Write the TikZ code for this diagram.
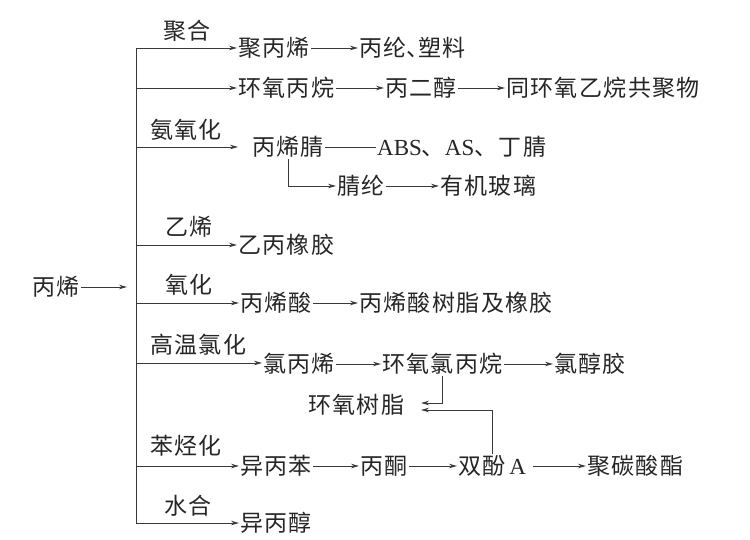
\documentclass[tikz,border=0pt]{standalone}
\usepackage{fontspec}
\setmainfont{Liberation Serif}
\newfontfamily\cjk{Noto Sans CJK SC}[LetterSpace=6]
\newfontfamily\cjkh{Noto Sans CJK SC}[RawFeature=+halt]
\usetikzlibrary{arrows.meta,calc}
\definecolor{ink}{HTML}{262626}
\definecolor{ln}{HTML}{3A3A3A}
\newcommand{\dunh}{{\cjkh 、}}
\tikzset{
  txt/.style={font=\cjk\fontsize{23}{24}\selectfont, text=ink, inner sep=1pt, anchor=west},
  cond/.style={font=\cjk\fontsize{23}{24}\selectfont, text=ink, inner sep=0pt, anchor=west},
  arr/.style={draw=ln, line width=0.9pt, -{Stealth[length=8pt,width=4.5pt]}},
  ln/.style={draw=ln, line width=0.9pt}
}
\begin{document}
\begin{tikzpicture}[x={(1pt,0)}, y={(0,-1pt)}]
\useasboundingbox (0,0) rectangle (750,540);
\fill[white] (0,0) rectangle (750,540);
% trunk
\coordinate (b1) at (136,48);
\coordinate (b2) at (136,88);
\coordinate (b3) at (136,147);
\coordinate (b4) at (136,245);
\coordinate (b5) at (136,303);
\coordinate (b6) at (136,363);
\coordinate (b7) at (136,466);
\coordinate (b8) at (136,523);
\draw[ln] (b1) -- (b8);
% source
\node[txt] (src) at (31,287) {丙烯};
\coordinate (srcend) at (127,287);
\draw[arr] (src.east) -- (srcend);
% condition labels
\node[cond] (c1) at (163,31) {聚合};
\node[cond] (c3) at (150,130) {氨氧化};
\node[cond] (c4) at (165,227) {乙烯};
\node[cond] (c5) at (165,285) {氧化};
\node[cond] (c6) at (150,345) {高温氯化};
\node[cond] (c7) at (150,446) {苯烃化};
\node[cond] (c8) at (164,506) {水合};
% row 1
\node[txt] (pp) at (237,48) {聚丙烯};
\node[txt] (ppf) at (358,48) {丙纶\dunh 塑料};
\draw[arr] (b1) -- (pp.west);
\draw[arr] (pp.east) -- (ppf.west);
% row 2
\node[txt] (po) at (237,88) {环氧丙烷};
\node[txt] (pg) at (384,88) {丙二醇};
\node[txt] (cop) at (505,88) {同环氧乙烷共聚物};
\draw[arr] (b2) -- (po.west);
\draw[arr] (po.east) -- (pg.west);
\draw[arr] (pg.east) -- (cop.west);
% row 3
\node[txt] (an) at (251,147) {丙烯腈};
\node[txt] (abs) at (376,147) {{\rmfamily ABS}、{\rmfamily AS}、丁腈};
\coordinate (anin) at (238,147);
\draw[arr] (b3) -- (anin);
\draw[ln] (an.east) -- (abs.west);
\node[txt] (acf) at (336,186) {腈纶};
\node[txt] (pmma) at (439,186) {有机玻璃};
\draw[arr] (an.south) |- (acf.west);
\draw[arr] (acf.east) -- (pmma.west);
% row 4
\node[txt] (epr) at (237,245) {乙丙橡胶};
\draw[arr] (b4) -- (epr.west);
% row 5
\node[txt] (aa) at (239,303) {丙烯酸};
\node[txt] (aar) at (358,303) {丙烯酸树脂及橡胶};
\draw[arr] (b5) -- (aa.west);
\draw[arr] (aa.east) -- (aar.west);
% row 6
\node[txt] (ac) at (262,364) {氯丙烯};
\node[txt] (ech) at (381,364) {环氧氯丙烷};
\node[txt] (chr) at (553,364) {氯醇胶};
\draw[arr] (b6) -- (b6 -| ac.west);
\draw[arr] (ac.east) -- (ech.west);
\draw[arr] (ech.east) -- (chr.west);
% epoxy resin
\node[txt] (er) at (307,405) {环氧树脂};
\coordinate (er1) at (421,403);
\coordinate (er2) at (421,410);
% row 7
\node[txt] (cum) at (239,466) {异丙苯};
\node[txt] (ace) at (359,466) {丙酮};
\node[txt] (bpa) at (457,466) {双酚\,{\rmfamily A}};
\node[txt] (pc) at (586,466) {聚碳酸酯};
\draw[arr] (b7) -- (cum.west);
\draw[arr] (cum.east) -- (ace.west);
\draw[arr] (ace.east) -- (bpa.west);
\draw[arr] ($(bpa.east)+(6,0)$) -- (pc.west);
\draw[arr] (ech.south) |- (er1);
\draw[arr] (bpa.north) |- (er2);
% row 8
\node[txt] (ipa) at (239,523) {异丙醇};
\draw[arr] (b8) -- (ipa.west);
\end{tikzpicture}
\end{document}
